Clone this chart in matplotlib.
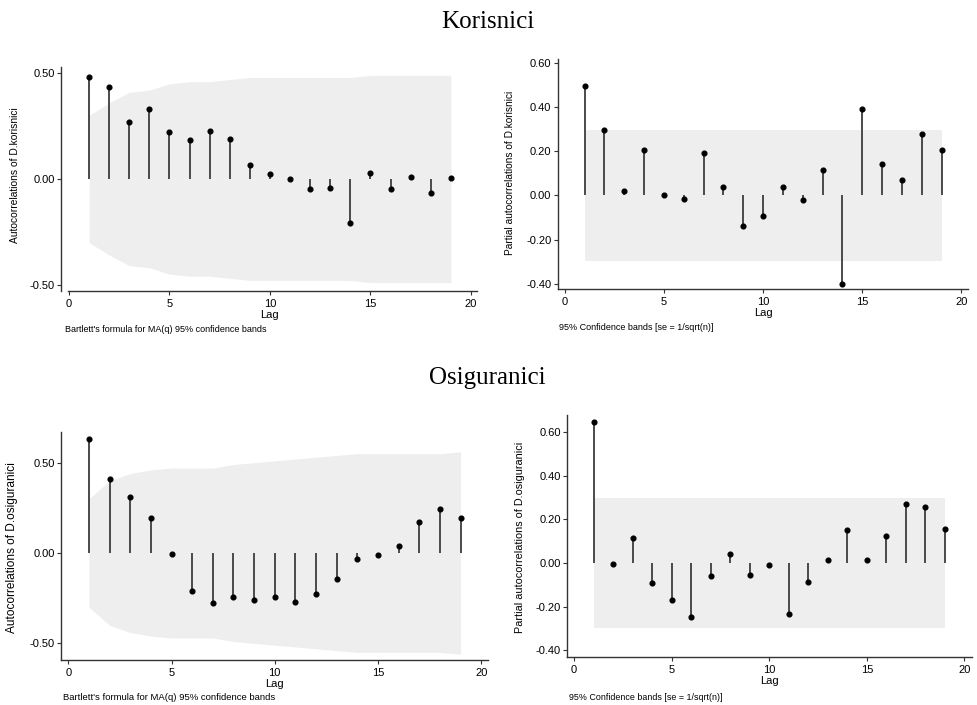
import numpy as np
import matplotlib
matplotlib.use('Agg')
import matplotlib.pyplot as plt

plt.rcParams['font.family'] = 'Liberation Sans'

# Lags 1..19
lags = np.arange(1, 20)

# Korisnici - autocorrelations and Bartlett band
acf_kor = [0.483, 0.435, 0.271, 0.332, 0.220, 0.182, 0.226, 0.187, 0.068, 0.025,
           0.002, -0.046, -0.044, -0.207, 0.027, -0.049, 0.009, -0.068, 0.003]
band_acf_kor = [0.30, 0.36, 0.41, 0.42, 0.45, 0.46, 0.46, 0.47, 0.48, 0.48,
                0.48, 0.48, 0.48, 0.48, 0.49, 0.49, 0.49, 0.49, 0.49]

# Korisnici - partial autocorrelations
pacf_kor = [0.495, 0.294, 0.018, 0.205, 0.003, -0.017, 0.190, 0.036, -0.137, -0.095,
            0.036, -0.023, 0.113, -0.400, 0.392, 0.140, 0.071, 0.278, 0.207]
band_pacf_kor = 0.297

# Osiguranici - autocorrelations and Bartlett band
acf_osi = [0.633, 0.408, 0.310, 0.192, -0.004, -0.210, -0.279, -0.244, -0.260, -0.244,
           -0.273, -0.225, -0.146, -0.035, -0.013, 0.039, 0.173, 0.244, 0.192]
band_acf_osi = [0.30, 0.40, 0.44, 0.46, 0.47, 0.47, 0.47, 0.49, 0.50, 0.51,
                0.52, 0.53, 0.54, 0.55, 0.55, 0.55, 0.55, 0.55, 0.56]

# Osiguranici - partial autocorrelations
pacf_osi = [0.647, -0.003, 0.113, -0.093, -0.171, -0.246, -0.060, 0.043, -0.056, -0.011,
            -0.235, -0.089, 0.015, 0.150, 0.015, 0.122, 0.270, 0.258, 0.157]
band_pacf_osi = 0.298

W, H = 977, 705
fig = plt.figure(figsize=(W / 100, H / 100), dpi=100)


def panel(px_left, px_right, px_top, px_bottom, xlim, ylim, yticks, vals, band,
          ylabel, note, ylab_xy, note_xy, fs_tick=8, fs_ylab=7, fs_note=6.2, xstart=None):
    ax = fig.add_axes([px_left / W, 1 - px_bottom / H,
                       (px_right - px_left) / W, (px_bottom - px_top) / H])
    band = np.broadcast_to(np.asarray(band, dtype=float), (len(lags),))
    ax.fill_between(lags, -band, band, color='#eeeeee', lw=0, zorder=1)
    ax.vlines(lags, 0, vals, color='#4a4a4a', lw=1.4, zorder=2)
    ax.plot(lags, vals, 'o', color='black', ms=3.4, zorder=3)
    ax.set_xlim(xlim)
    ax.set_ylim(ylim)
    ax.set_xticks([0, 5, 10, 15, 20])
    ax.set_yticks(yticks)
    ax.set_yticklabels(['%.2f' % t for t in yticks])
    for s in ['top', 'right']:
        ax.spines[s].set_visible(False)
    for s in ['left', 'bottom']:
        ax.spines[s].set_color('#333333')
        ax.spines[s].set_linewidth(1.0)
    if xstart is not None:
        ax.spines['bottom'].set_bounds(xstart, xlim[1])
    ax.tick_params(axis='both', length=3, width=0.8, color='#333333', labelsize=fs_tick, pad=1.5)
    ax.tick_params(axis='x', pad=2.5)
    ax.set_xlabel('Lag', fontsize=fs_tick, labelpad=1)
    ax.set_facecolor('none')
    # y label and note placed in pixel positions
    fig.text(ylab_xy[0] / W, 1 - ylab_xy[1] / H, ylabel, rotation=90,
             ha='center', va='center', fontsize=fs_ylab)
    fig.text(note_xy[0] / W, 1 - note_xy[1] / H, note, ha='left', va='center',
             fontsize=fs_note)
    return ax


bart = "Bartlett's formula for MA(q) 95% confidence bands"
conf = "95% Confidence bands [se = 1/sqrt(n)]"

# Top left: ACF korisnici
panel(61, 477, 66.7, 291, (-0.398, 20.30), (-0.530, 0.531), [-0.5, 0, 0.5],
      acf_kor, band_acf_kor, 'Autocorrelations of D.korisnici', bart,
      (15, 175), (65, 329), fs_ylab=7.4, fs_note=6.5, xstart=-0.065)

# Top right: PACF korisnici
panel(557.7, 968.3, 59, 289.3, (-0.353, 20.35), (-0.425, 0.617),
      [-0.4, -0.2, 0, 0.2, 0.4, 0.6],
      pacf_kor, band_pacf_kor, 'Partial autocorrelations of D.korisnici', conf,
      (510, 173), (559, 328), fs_ylab=7.3, fs_note=6.5)

# Bottom left: ACF osiguranici
panel(61, 488, 432.3, 660, (-0.354, 20.33), (-0.592, 0.668), [-0.5, 0, 0.5],
      acf_osi, band_acf_osi, 'Autocorrelations of D.osiguranici', bart,
      (12, 548), (63, 698), fs_ylab=8.6, fs_note=6.8)

# Bottom right: PACF osiguranici
panel(567.3, 971.7, 415, 657, (-0.343, 20.37), (-0.431, 0.678),
      [-0.4, -0.2, 0, 0.2, 0.4, 0.6],
      pacf_osi, band_pacf_osi, 'Partial autocorrelations of D.osiguranici', conf,
      (520, 537), (569, 697), fs_ylab=7.8, fs_note=6.4)

# Section titles
fig.text(488 / W, 1 - 28 / H, 'Korisnici', family='Liberation Serif', fontsize=18,
         ha='center', va='baseline')
fig.text(487.5 / W, 1 - 384 / H, 'Osiguranici', family='Liberation Serif', fontsize=18,
         ha='center', va='baseline')

fig.savefig('out.png', dpi=100, facecolor='white')
